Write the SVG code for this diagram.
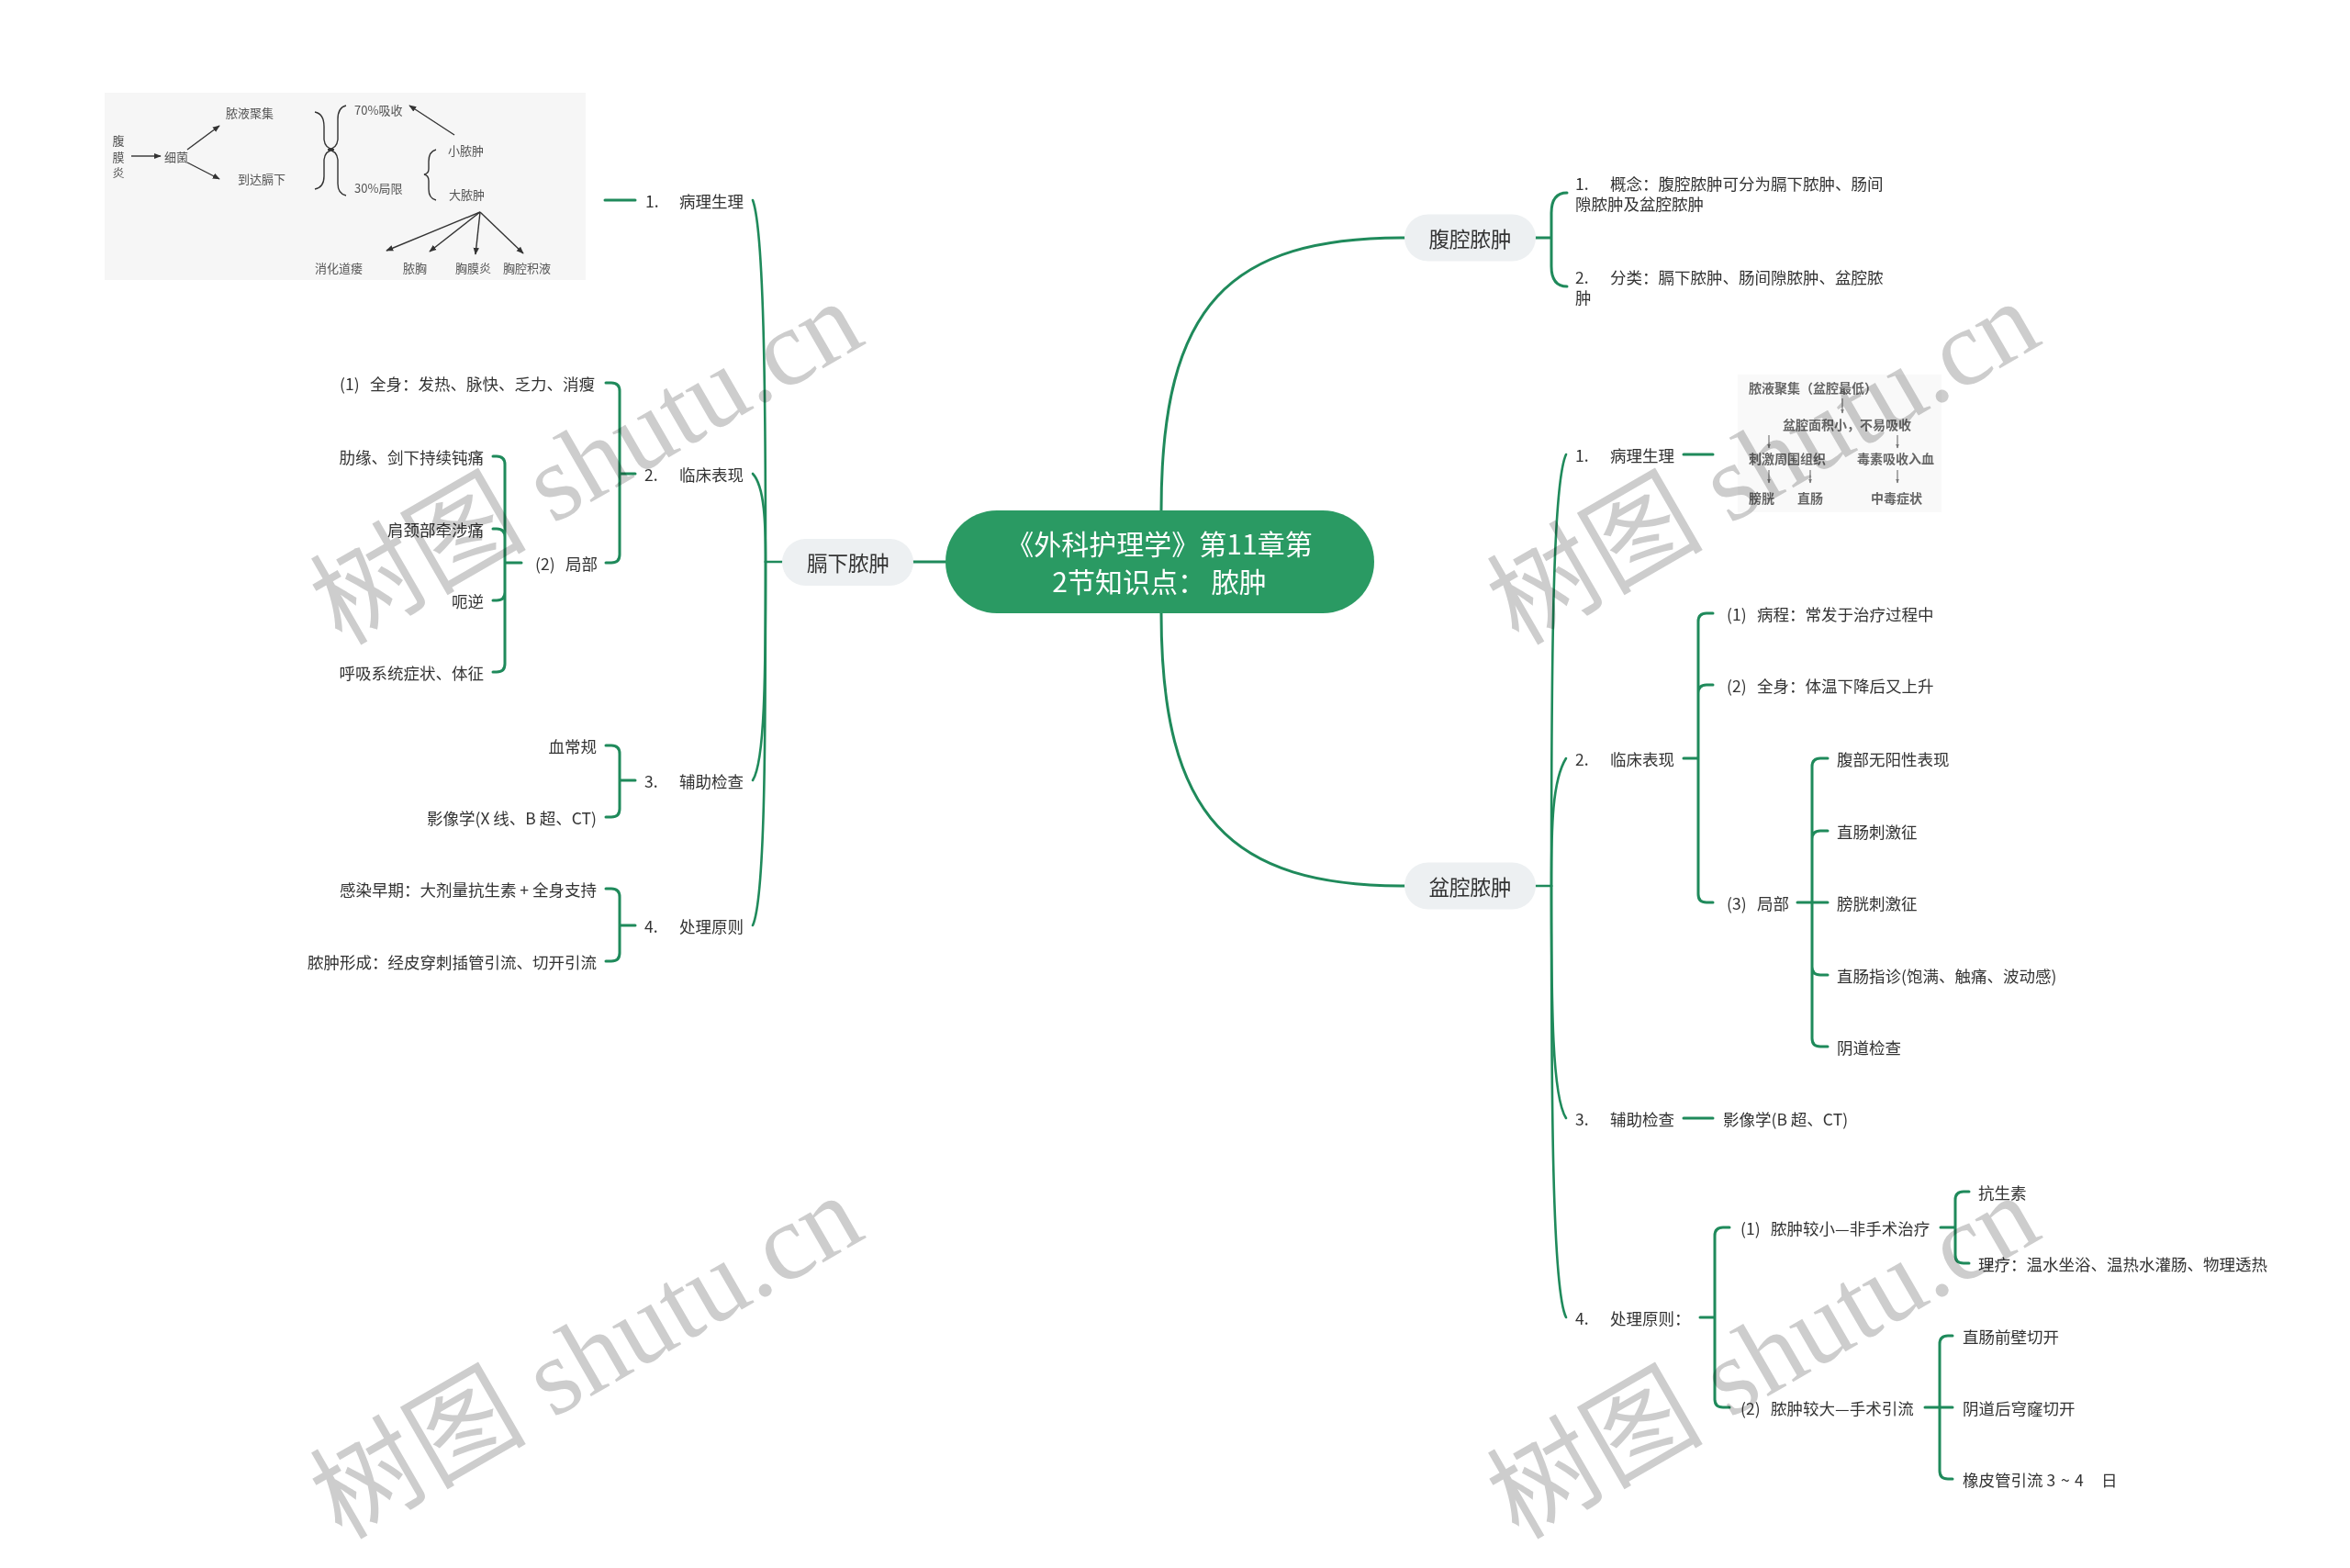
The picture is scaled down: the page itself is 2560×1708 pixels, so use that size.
<svg xmlns="http://www.w3.org/2000/svg" width="2560" height="1708" viewBox="0 0 2560 1708">
<style>
text{font-family:"Noto Sans CJK SC","Liberation Sans",sans-serif;fill:#333;dominant-baseline:central}
.t{font-size:17.5px}
.e{text-anchor:end}
.m{font-size:22.5px;text-anchor:middle}
.c{font-size:30px;text-anchor:middle;fill:#fff}
.ln{fill:none;stroke:#1f8a5b;stroke-width:2.6;stroke-linecap:round}
.br{fill:none;stroke:#1f8a5b;stroke-width:3;stroke-linecap:round;stroke-linejoin:round}
.node{fill:#edf0f2}
.im{font-size:13px;fill:#555}
.ip{font-size:14px;fill:#666;font-family:"Liberation Serif","Noto Sans CJK SC",serif;font-weight:bold}
.ia{stroke:#333;stroke-width:1.4;fill:none}
.pa{stroke:#777;stroke-width:1.2;fill:none}
.wm{font-family:"Liberation Serif","Noto Sans CJK SC",serif;font-size:118px;fill:#cdcdcd;mix-blend-mode:multiply;dominant-baseline:alphabetic}
</style>
<defs>
<marker id="ah" viewBox="0 0 10 10" refX="9" refY="5" markerWidth="8" markerHeight="8" markerUnits="userSpaceOnUse" orient="auto"><path d="M0,1 L10,5 L0,9 z" fill="#333"/></marker>
<marker id="ps" viewBox="0 0 10 10" refX="9" refY="5" markerWidth="5" markerHeight="5" markerUnits="userSpaceOnUse" orient="auto"><path d="M0,1 L10,5 L0,9 z" fill="#777"/></marker>
</defs>
<rect width="2560" height="1708" fill="#fff"/>

<g id="connectors">
<path class="ln" d="M1030 612 L995 612" style="stroke-width:3"/>
<path class="ln" d="M1265 556 C1265 330 1340 259 1530 259" style="stroke-width:3"/>
<path class="ln" d="M1265 668 C1265 890 1340 965 1530 965" style="stroke-width:3"/>
<path class="ln" d="M852 612 L834 612"/>
<path class="ln" d="M834 612 C834 420 832 250 820 218"/>
<path class="ln" d="M834 612 C834 570 833 530 820 516"/>
<path class="ln" d="M834 612 C834 740 833 830 820 850"/>
<path class="ln" d="M834 612 C834 820 833 980 820 1008"/>
<path class="br" d="M659 218 L692 218"/>
<path class="br" d="M692 516 L675 516 L675 426 Q675 417 666 417 L660 417 M675 516 L675 604 Q675 613 666 613 L660 613"/>
<path class="br" d="M568 613 L550 613 L550 506 Q550 497 541 497 L537 497 M550 613 L550 585 Q550 576 541 576 L537 576 M550 613 L550 645 Q550 654 541 654 L537 654 M550 613 L550 723 Q550 732 541 732 L537 732"/>
<path class="br" d="M692 850 L675 850 L675 821 Q675 812 666 812 L660 812 M675 850 L675 881 Q675 890 666 890 L660 890"/>
<path class="br" d="M692 1008 L675 1008 L675 977 Q675 968 666 968 L660 968 M675 1008 L675 1038 Q675 1047 666 1047 L660 1047"/>
<path class="br" d="M1673 259 L1690 259 L1690 232 Q1690 210 1707 210 M1690 259 L1690 290 Q1690 312 1707 312"/>
<path class="ln" d="M1673 965 L1690 965"/>
<path class="ln" d="M1690 965 C1690 700 1692 525 1706 495"/>
<path class="ln" d="M1690 965 C1690 900 1691 850 1706 826"/>
<path class="ln" d="M1690 965 C1690 1100 1691 1195 1706 1218"/>
<path class="ln" d="M1690 965 C1690 1200 1691 1405 1706 1435"/>
<path class="br" d="M1834 495 L1866 495"/>
<path class="br" d="M1834 826 L1850 826 L1850 677 Q1850 668 1859 668 L1866 668 M1850 826 L1850 755 Q1850 746 1859 746 L1866 746 M1850 826 L1850 974 Q1850 983 1859 983 L1866 983"/>
<path class="br" d="M1958 983 L1974 983 L1974 835 Q1974 826 1983 826 L1991 826 M1974 983 L1974 914 Q1974 905 1983 905 L1991 905 M1974 983 L1991 983 M1974 983 L1974 1053 Q1974 1062 1983 1062 L1991 1062 M1974 983 L1974 1131 Q1974 1140 1983 1140 L1991 1140"/>
<path class="br" d="M1834 1218 L1866 1218"/>
<path class="br" d="M1852 1435 L1868 1435 L1868 1346 Q1868 1337 1877 1337 L1884 1337 M1868 1435 L1868 1524 Q1868 1533 1877 1533 L1884 1533"/>
<path class="br" d="M2114 1337 L2130 1337 L2130 1307 Q2130 1298 2139 1298 L2145 1298 M2130 1337 L2130 1367 Q2130 1376 2139 1376 L2145 1376"/>
<path class="br" d="M2097 1533 L2113 1533 L2113 1464 Q2113 1455 2122 1455 L2127 1455 M2113 1533 L2127 1533 M2113 1533 L2113 1602 Q2113 1611 2122 1611 L2127 1611"/>
</g>

<g id="center">
<rect x="1030" y="556" width="467" height="112" rx="56" fill="#2a9a63"/>
<text class="c" x="1263" y="591">《外科护理学》第11章第</text>
<text class="c" x="1263" y="632">2节知识点： 脓肿</text>
</g>

<g id="n-gexia">
<rect class="node" x="852" y="587" width="143" height="51" rx="25.5"/>
<text class="m" x="924" y="612">膈下脓肿</text>
</g>
<g id="n-fuqiang">
<rect class="node" x="1530" y="233.5" width="143" height="51" rx="25.5"/>
<text class="m" x="1601.5" y="259">腹腔脓肿</text>
</g>
<g id="n-penqiang">
<rect class="node" x="1530" y="939.5" width="143" height="51" rx="25.5"/>
<text class="m" x="1601.5" y="965">盆腔脓肿</text>
</g>

<g id="l1"><text class="t" x="703" y="218">1.</text><text class="t" x="740" y="218">病理生理</text></g>
<g id="l1-img">
<rect x="114" y="101" width="524" height="204" fill="#f6f6f6"/>
<text class="im" x="129" y="152" text-anchor="middle">腹</text>
<text class="im" x="129" y="170" text-anchor="middle">膜</text>
<text class="im" x="129" y="187" text-anchor="middle">炎</text>
<line class="ia" x1="143" y1="170" x2="175" y2="170" marker-end="url(#ah)"/>
<text class="im" x="179" y="170">细菌</text>
<line class="ia" x1="204" y1="163" x2="239" y2="137" marker-end="url(#ah)"/>
<line class="ia" x1="204" y1="177" x2="239" y2="195" marker-end="url(#ah)"/>
<text class="im" x="246" y="122">脓液聚集</text>
<text class="im" x="259" y="194">到达膈下</text>
<path class="ia" d="M343 122 Q353 124 353 138 L353 152 Q354 162 364 163 Q354 164 353 174 L353 192 Q353 204 343 206"/>
<path class="ia" d="M377 115 Q368 117 368 130 L368 152 Q367 162 357 163 Q367 164 368 174 L368 200 Q368 211 377 213"/>
<text class="im" x="386" y="119">70%吸收</text>
<text class="im" x="386" y="204">30%局限</text>
<line class="ia" x1="495" y1="147" x2="446" y2="115" marker-end="url(#ah)"/>
<path class="ia" d="M475 163 Q467 165 467 176 L467 184 Q467 189 462 190 Q467 191 467 197 L467 206 Q467 216 475 218"/>
<text class="im" x="488" y="163">小脓肿</text>
<text class="im" x="489" y="211">大脓肿</text>
<line class="ia" x1="523" y1="231" x2="421" y2="273" marker-end="url(#ah)"/>
<line class="ia" x1="523" y1="231" x2="468" y2="274" marker-end="url(#ah)"/>
<line class="ia" x1="523" y1="231" x2="518" y2="277" marker-end="url(#ah)"/>
<line class="ia" x1="523" y1="231" x2="570" y2="276" marker-end="url(#ah)"/>
<text class="im" x="343" y="291">消化道瘘</text>
<text class="im" x="439" y="291">脓胸</text>
<text class="im" x="496" y="291">胸膜炎</text>
<text class="im" x="548" y="291">胸腔积液</text>
</g>

<g id="l2"><text class="t" x="702" y="516">2.</text><text class="t" x="740" y="516">临床表现</text></g>
<g id="l2-1"><text class="t" x="370" y="417">(1)</text><text class="t" x="403" y="417">全身：发热、脉快、乏力、消瘦</text></g>
<g id="l2-2"><text class="t" x="583" y="613">(2)</text><text class="t" x="616" y="613">局部</text></g>
<g id="l2-2-a"><text class="t e" x="527" y="497">肋缘、剑下持续钝痛</text></g>
<g id="l2-2-b"><text class="t e" x="527" y="576">肩颈部牵涉痛</text></g>
<g id="l2-2-c"><text class="t e" x="527" y="654">呃逆</text></g>
<g id="l2-2-d"><text class="t e" x="527" y="732">呼吸系统症状、体征</text></g>

<g id="l3"><text class="t" x="702" y="850">3.</text><text class="t" x="740" y="850">辅助检查</text></g>
<g id="l3-a"><text class="t e" x="650" y="812">血常规</text></g>
<g id="l3-b"><text class="t e" x="650" y="890">影像学(X 线、B 超、CT)</text></g>

<g id="l4"><text class="t" x="702" y="1008">4.</text><text class="t" x="740" y="1008">处理原则</text></g>
<g id="l4-a"><text class="t e" x="650" y="968">感染早期：大剂量抗生素 + 全身支持</text></g>
<g id="l4-b"><text class="t e" x="650" y="1047">脓肿形成：经皮穿刺插管引流、切开引流</text></g>

<g id="r-a1">
<text class="t" x="1716" y="199">1.</text><text class="t" x="1754" y="199">概念：腹腔脓肿可分为膈下脓肿、肠间</text>
<text class="t" x="1716" y="221">隙脓肿及盆腔脓肿</text>
</g>
<g id="r-a2">
<text class="t" x="1716" y="301">2.</text><text class="t" x="1754" y="301">分类：膈下脓肿、肠间隙脓肿、盆腔脓</text>
<text class="t" x="1716" y="323">肿</text>
</g>

<g id="p1"><text class="t" x="1716" y="495">1.</text><text class="t" x="1754" y="495">病理生理</text></g>
<g id="p1-img">
<rect x="1893" y="408" width="222" height="150" fill="#f9f9f9"/>
<text class="ip" x="1905" y="423">脓液聚集（盆腔最低）</text>
<line class="pa" x1="2007" y1="434" x2="2007" y2="450" marker-end="url(#ps)"/>
<text class="ip" x="1942" y="463">盆腔面积小，不易吸收</text>
<line class="pa" x1="1927" y1="474" x2="1927" y2="488" marker-end="url(#ps)"/>
<line class="pa" x1="2067" y1="474" x2="2067" y2="488" marker-end="url(#ps)"/>
<text class="ip" x="1905" y="500">刺激周围组织</text>
<text class="ip" x="2023" y="500">毒素吸收入血</text>
<line class="pa" x1="1927" y1="512" x2="1927" y2="526" marker-end="url(#ps)"/>
<line class="pa" x1="1972" y1="512" x2="1972" y2="526" marker-end="url(#ps)"/>
<line class="pa" x1="2067" y1="512" x2="2067" y2="526" marker-end="url(#ps)"/>
<text class="ip" x="1905" y="543">膀胱</text>
<text class="ip" x="1958" y="543">直肠</text>
<text class="ip" x="2038" y="543">中毒症状</text>
</g>

<g id="p2"><text class="t" x="1716" y="826">2.</text><text class="t" x="1754" y="826">临床表现</text></g>
<g id="p2-1"><text class="t" x="1881" y="668">(1)</text><text class="t" x="1914" y="668">病程：常发于治疗过程中</text></g>
<g id="p2-2"><text class="t" x="1881" y="746">(2)</text><text class="t" x="1914" y="746">全身：体温下降后又上升</text></g>
<g id="p2-3"><text class="t" x="1881" y="983">(3)</text><text class="t" x="1914" y="983">局部</text></g>
<g id="p2-3-a"><text class="t" x="2001" y="826">腹部无阳性表现</text></g>
<g id="p2-3-b"><text class="t" x="2001" y="905">直肠刺激征</text></g>
<g id="p2-3-c"><text class="t" x="2001" y="983">膀胱刺激征</text></g>
<g id="p2-3-d"><text class="t" x="2001" y="1062">直肠指诊(饱满、触痛、波动感)</text></g>
<g id="p2-3-e"><text class="t" x="2001" y="1140">阴道检查</text></g>

<g id="p3"><text class="t" x="1716" y="1218">3.</text><text class="t" x="1754" y="1218">辅助检查</text></g>
<g id="p3-a"><text class="t" x="1877" y="1218">影像学(B 超、CT)</text></g>

<g id="p4"><text class="t" x="1716" y="1435">4.</text><text class="t" x="1754" y="1435">处理原则：</text></g>
<g id="p4-1"><text class="t" x="1896" y="1337">(1)</text><text class="t" x="1929" y="1337">脓肿较小—非手术治疗</text></g>
<g id="p4-1-a"><text class="t" x="2155" y="1298">抗生素</text></g>
<g id="p4-1-b"><text class="t" x="2155" y="1376">理疗：温水坐浴、温热水灌肠、物理透热</text></g>
<g id="p4-2"><text class="t" x="1896" y="1533">(2)</text><text class="t" x="1929" y="1533">脓肿较大—手术引流</text></g>
<g id="p4-2-a"><text class="t" x="2138" y="1455">直肠前壁切开</text></g>
<g id="p4-2-b"><text class="t" x="2138" y="1533">阴道后穹窿切开</text></g>
<g id="p4-2-c"><text class="t" x="2138" y="1611">橡皮管引流 3<tspan x="2245">~</tspan><tspan x="2260">4</tspan><tspan x="2289">日</tspan></text></g>

<g id="watermark">
<text class="wm" x="372" y="704" transform="rotate(-30 372 704)">树图 shutu.cn</text>
<text class="wm" x="1654" y="704" transform="rotate(-30 1654 704)">树图 shutu.cn</text>
<text class="wm" x="372" y="1678" transform="rotate(-30 372 1678)">树图 shutu.cn</text>
<text class="wm" x="1654" y="1678" transform="rotate(-30 1654 1678)">树图 shutu.cn</text>
</g>
</svg>
